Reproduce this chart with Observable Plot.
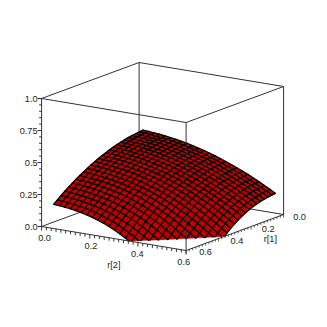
<!DOCTYPE html>
<html>
<head>
<meta charset="utf-8">
<style>html,body{margin:0;padding:0;background:#fff}svg{display:block}</style>
<script src="https://cdn.jsdelivr.net/npm/d3@7"></script>
<script src="https://cdn.jsdelivr.net/npm/@observablehq/plot@0.6"></script>
</head>
<body>
<script>
// sampled parameter values of the surface (same for r[1] and r[2])
const rValues = [0.05,0.0729,0.0958,0.1188,0.1417,0.1646,0.1875,0.2104,0.2333,0.2563,0.2792,0.3021,0.325,0.3479,0.3708,0.3938,0.4167,0.4396,0.4625,0.4854,0.5083,0.5313,0.5542,0.5771,0.6];
// surface heights; the surface is symmetric in r[1], r[2], so each row starts on the diagonal
const heightRows = [
[.510,.508,.504,.500,.495,.488,.481,.473,.464,.454,.442,.431,.418,.404,.389,.373,.356,.339,.320,.301,.280,.259,.236,.213,.188],
[.505,.502,.497,.492,.486,.479,.470,.461,.451,.440,.428,.415,.401,.386,.370,.354,.336,.317,.298,.277,.256,.233,.210,.186],
[.498,.494,.489,.482,.475,.467,.458,.447,.436,.424,.411,.398,.383,.367,.350,.332,.314,.294,.273,.252,.229,.206,.181],
[.490,.484,.478,.471,.462,.453,.443,.432,.420,.407,.393,.378,.362,.345,.327,.309,.289,.268,.247,.224,.200,.176],
[.479,.472,.465,.457,.448,.437,.426,.414,.401,.387,.372,.356,.339,.321,.302,.283,.262,.240,.217,.193,.169],
[.466,.459,.451,.441,.431,.420,.408,.394,.380,.365,.349,.332,.314,.295,.275,.254,.232,.209,.185,.160],
[.452,.443,.434,.424,.412,.400,.387,.373,.357,.341,.324,.306,.286,.266,.245,.223,.199,.175,.150],
[.435,.425,.415,.404,.391,.378,.364,.348,.332,.314,.296,.276,.256,.234,.211,.188,.163,.137],
[.416,.405,.394,.381,.368,.353,.338,.321,.303,.285,.265,.244,.222,.199,.175,.149,.123],
[.395,.383,.371,.357,.342,.326,.309,.291,.272,.252,.230,.208,.184,.160,.134,.107],
[.371,.359,.345,.330,.313,.296,.278,.258,.237,.215,.192,.168,.143,.116,.088],
[.346,.331,.316,.299,.282,.263,.243,.221,.199,.175,.150,.124,.096,.067],
[.317,.301,.284,.266,.246,.226,.204,.180,.156,.130,.103,.074,.044],
[.285,.267,.249,.229,.207,.184,.160,.135,.108,.080,.050,.018],
[.249,.230,.209,.187,.164,.138,.112,.084,.054,.023,-.010],
[.210,.188,.165,.141,.114,.087,.057,.026,-.007,-.041],
[.166,.142,.116,.089,.060,.029,-.004,-.038,-.075],
[.117,.090,.061,.031,-.002,-.037,-.073,-.111],
[.062,.031,-.001,-.035,-.072,-.110,-.151],
[-.001,-.035,-.071,-.110,-.151,-.194],
[-.071,-.109,-.150,-.194,-.240],
[-.150,-.194,-.241,-.290],
[-.241,-.290,-.343],
[-.343,-.399],
[-.460]
];
const heightTicks = [0,0.05,0.1,0.15,0.2,0.25,0.3,0.35,0.4,0.45,0.5,0.55,0.6,0.65,0.7,0.75,0.8,0.85,0.9,0.95,1];
const heightLabelValues = [0,0.25,0.5,0.75,1];
const heightLabels = ["0.0","0.25","0.5","0.75","1.0"];
const rTicks = d3.range(0,31).map(k=>k*0.02);
const rLabelValues = [0,0.2,0.4,0.6];
const rLabels = ["0.0","0.2","0.4","0.6"];
const boxBehind = [
  [[0.6,0,0],[0,0,0],[0,0.6,0]],
  [[0,0,0],[0,0,1]]
];
const boxFront = [
  [[0.6,0,1],[0,0,1],[0,0.6,1],[0.6,0.6,1],[0.6,0,1]],
  [[0.6,0,1],[0.6,0,0],[0.6,0.6,0],[0,0.6,0],[0,0.6,1]],
  [[0.6,0.6,1],[0.6,0.6,0]]
];
const surfaceColor = "#bf0000", lineColor = "#333";

// fixed viewing direction of the box
const px = d => 138.6 + d.r2/0.6*144.5 - d.r1/0.6*97.5;
const py = d => 190 + d.r2/0.6*24 + d.r1/0.6*36 - d.h*128;

const n = rValues.length;
const H = (i,j)=> i<=j ? heightRows[i][j-i] : heightRows[j][i-j];
const pt = (i,j)=>({r1:rValues[i],r2:rValues[j],h:H(i,j)});
const cross = (a,b)=>{const t=a.h/(a.h-b.h);return {r1:a.r1+t*(b.r1-a.r1),r2:a.r2+t*(b.r2-a.r2),h:0};};

// surface cells, cut at the floor of the box
const cells = [];
for(let i=0;i<n-1;i++)for(let j=0;j<n-1;j++){
  const poly=[pt(i,j),pt(i+1,j),pt(i+1,j+1),pt(i,j+1)];
  poly.forEach((p,k)=>{
    const q=poly[(k+1)%4];
    if(p.h>=0)cells.push({...p,cell:i*n+j});
    if((p.h>=0)!==(q.h>=0))cells.push({...cross(p,q),cell:i*n+j});
  });
}
// mesh lines, cut at the floor too
const mesh=[];
for(let i=0;i<n;i++){
  for(const dir of [0,1]){
    for(let j=0;j<n;j++){
      const p=dir?pt(i,j):pt(j,i);
      if(p.h>=0)mesh.push({...p,line:dir*n+i});
      if(j<n-1){
        const q=dir?pt(i,j+1):pt(j+1,i);
        if((p.h>=0)!==(q.h>=0))mesh.push({...cross(p,q),line:dir*n+i});
      }
    }
  }
}
const toPath=(paths)=>paths.flatMap((p,k)=>p.map(([r1,r2,h])=>({r1,r2,h,path:k})));
const r2Axis=rTicks.map(v=>({r1:0.6,r2:v,h:0,major:Math.abs(v*5-Math.round(v*5))<1e-6}));
const r1Axis=rTicks.map(v=>({r1:v,r2:0.6,h:0,major:Math.abs(v*5-Math.round(v*5))<1e-6}));
const hAxis=heightTicks.map(v=>({r1:0.6,r2:0,h:v,major:Math.abs(v*4-Math.round(v*4))<1e-6}));
const tx={fontSize:9.2,fill:"#222",fontFamily:"'Liberation Sans',Arial,sans-serif"};

const chart=Plot.plot({
  width:327,height:327,margin:0,
  x:{domain:[0,327],range:[0,327],axis:null},
  y:{domain:[0,327],range:[0,327],axis:null},
  style:{background:"#fff"},
  marks:[
    Plot.line(toPath(boxBehind),{x:px,y:py,z:"path",stroke:lineColor,strokeWidth:1,curve:"linear"}),
    Plot.line(cells,{x:px,y:py,z:"cell",fill:surfaceColor,stroke:surfaceColor,strokeWidth:0.4}),
    Plot.line(mesh,{x:px,y:py,z:"line",stroke:"#000",strokeWidth:1.3}),
    Plot.line(toPath(boxFront),{x:px,y:py,z:"path",stroke:lineColor,strokeWidth:1}),
    Plot.link(r2Axis,{x1:px,y1:py,x2:px,y2:d=>py(d)+(d.major?4:3),stroke:lineColor,strokeWidth:1}),
    Plot.link(r1Axis,{x1:px,y1:py,x2:px,y2:d=>py(d)+(d.major?3:2),stroke:lineColor,strokeWidth:0.8}),
    Plot.link(hAxis,{x1:d=>px(d)-(d.major?4:2.5),y1:py,x2:px,y2:py,stroke:lineColor,strokeWidth:1}),
    Plot.text(heightLabelValues,{x:v=>px({r1:0.6,r2:0,h:v}),y:v=>py({r1:0.6,r2:0,h:v}),text:(v,i)=>heightLabels[i],textAnchor:"end",dx:-4,dy:1,...tx}),
    Plot.text(rLabelValues,{x:v=>px({r1:0.6,r2:v,h:0})+3-v*9,y:v=>py({r1:0.6,r2:v,h:0}),text:(v,i)=>rLabels[i],dy:12,...tx}),
    Plot.text(rLabelValues,{x:v=>px({r1:v,r2:0.6,h:0})+16+v*5.8,y:v=>py({r1:v,r2:0.6,h:0})-v*1.7,text:(v,i)=>rLabels[i],dy:3,...tx}),
    Plot.text([{r1:0.6,r2:0.3,h:0,t:"r[2]"}],{x:px,y:py,text:"t",dy:27,...tx}),
    Plot.text([{r1:0.1,r2:0.6,h:0,t:"r[1]"}],{x:px,y:py,text:"t",dx:3,dy:18.5,...tx})
  ]
});
document.body.appendChild(chart);
</script>
</body>
</html>
